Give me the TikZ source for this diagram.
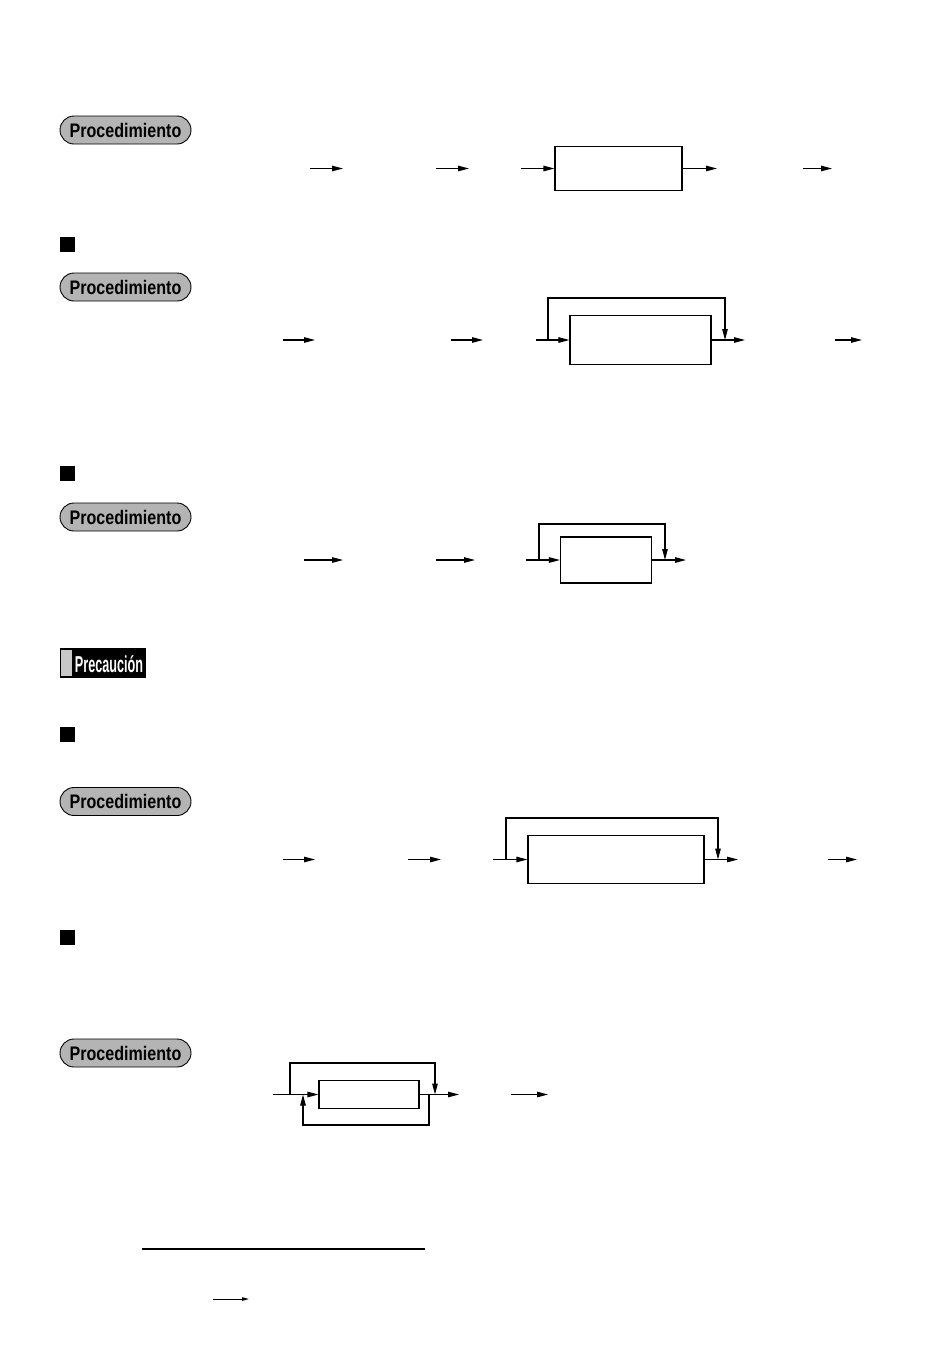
\documentclass[tikz,border=0pt]{standalone}
\usepackage{fontspec}
\usetikzlibrary{arrows.meta}
\newfontfamily\pillfont[FakeStretch=0.82]{Liberation Sans}
\newfontfamily\cautfont[FakeStretch=0.55]{Liberation Sans}
\definecolor{pillgray}{HTML}{B4B4B4}
\definecolor{stripgray}{HTML}{C8C8C8}
\tikzset{
  arr/.style={line width=1.1pt,-{Triangle[length=11pt,width=5.5pt]}},
  ln/.style={line width=1.1pt},
  keybox/.style={draw,line width=1.1pt,minimum width=#1,inner sep=0pt},
  pill/.style={draw,line width=0.9pt,fill=pillgray,rounded corners=14pt,minimum width=131pt,minimum height=28pt,inner sep=0pt,font=\pillfont\bfseries\fontsize{19.6}{20}\selectfont},
  bullet/.style={fill=black,minimum size=15pt,inner sep=0pt},
}
\begin{document}
\begin{tikzpicture}[x=1pt,y=-1pt]
\useasboundingbox (0,0) rectangle (947,1369);
% pills
\node[pill] (p1) at (125.5,130) {Procedimiento};
\node[pill] (p2) at (125.5,287) {Procedimiento};
\node[pill] (p3) at (125.5,517) {Procedimiento};
\node[pill] (p4) at (125.5,801.5) {Procedimiento};
\node[pill] (p5) at (125.5,1053) {Procedimiento};
% bullets
\node[bullet] (s2) at (67.5,244.5) {};
\node[bullet] (s3) at (67.5,473.5) {};
\node[bullet] (s4) at (67.5,734.5) {};
\node[bullet] (s5) at (67.5,937.5) {};
% caution label
\node[fill=black,minimum width=86pt,minimum height=30pt,inner sep=0pt] (cb) at (103,663) {};
\node[fill=stripgray,minimum width=11pt,minimum height=26pt,inner sep=0pt] (cs) at (66.5,663) {};
\node[text=white,inner sep=0pt,font=\cautfont\bfseries\fontsize{23}{24}\selectfont] (ct) at (109,664) {Precauci\'on};
% ---- section 1
\node[keybox=127pt,minimum height=44pt] (b1) at (618.5,168.5) {};
\coordinate (a1s) at (310,168.5); \coordinate (a1e) at (343,168.5);
\coordinate (a2s) at (436,168.5); \coordinate (a2e) at (469,168.5);
\coordinate (a3s) at (521,168.5);
\coordinate (a4e) at (717,168.5);
\coordinate (a5s) at (803,168.5); \coordinate (a5e) at (832,168.5);
\draw[arr] (a1s) -- (a1e);
\draw[arr] (a2s) -- (a2e);
\draw[arr] (a3s) -- (b1.west);
\draw[arr] (b1.east) -- (a4e);
\draw[arr] (a5s) -- (a5e);
% ---- section 2
\node[keybox=141pt,minimum height=49pt] (b2) at (640.5,340) {};
\coordinate (c1s) at (283,340); \coordinate (c1e) at (315,340);
\coordinate (c2s) at (451,340); \coordinate (c2e) at (483,340);
\coordinate (c3s) at (536,340);
\coordinate (l2a) at (548,340); \coordinate (l2b) at (725,340);
\coordinate (c4e) at (745,340);
\coordinate (c5s) at (835,340); \coordinate (c5e) at (862,340);
\draw[arr] (c1s) -- (c1e);
\draw[arr] (c2s) -- (c2e);
\draw[arr] (c3s) -- (b2.west);
\draw[arr] (l2a) -- (548,298) -- (725,298) -- (l2b);
\draw[arr] (b2.east) -- (c4e);
\draw[arr] (c5s) -- (c5e);
% ---- section 3
\node[keybox=91pt,minimum height=46pt] (b3) at (606,560) {};
\coordinate (d1s) at (304,560); \coordinate (d1e) at (343,560);
\coordinate (d2s) at (436,560); \coordinate (d2e) at (475,560);
\coordinate (d3s) at (526,560);
\coordinate (l3a) at (539,560); \coordinate (l3b) at (665,560);
\coordinate (d4e) at (686,560);
\draw[arr] (d1s) -- (d1e);
\draw[arr] (d2s) -- (d2e);
\draw[arr] (d3s) -- (b3.west);
\draw[arr] (l3a) -- (539,524) -- (665,524) -- (l3b);
\draw[arr] (b3.east) -- (d4e);
% ---- section 4
\node[keybox=176pt,minimum height=48pt] (b4) at (616,859.5) {};
\coordinate (e1s) at (283,859.5); \coordinate (e1e) at (315,859.5);
\coordinate (e2s) at (408,859.5); \coordinate (e2e) at (441,859.5);
\coordinate (e3s) at (493,859.5);
\coordinate (l4a) at (506,859.5); \coordinate (l4b) at (718,859.5);
\coordinate (e4e) at (738,859.5);
\coordinate (e5s) at (828,859.5); \coordinate (e5e) at (857,859.5);
\draw[arr] (e1s) -- (e1e);
\draw[arr] (e2s) -- (e2e);
\draw[arr] (e3s) -- (b4.west);
\draw[arr] (l4a) -- (506,818) -- (718,818) -- (l4b);
\draw[arr] (b4.east) -- (e4e);
\draw[arr] (e5s) -- (e5e);
% ---- section 5
\node[keybox=100pt,minimum height=28pt] (b5) at (369,1094.5) {};
\coordinate (f1s) at (273,1094.5);
\coordinate (l5a) at (290,1094.5); \coordinate (l5b) at (435,1094.5);
\coordinate (m5a) at (429,1094.5); \coordinate (m5b) at (303,1094.5);
\coordinate (f2e) at (459,1094.5);
\coordinate (f3s) at (511,1094.5); \coordinate (f3e) at (548,1094.5);
\draw[arr] (f1s) -- (b5.west);
\draw[arr] (l5a) -- (290,1063) -- (435,1063) -- (l5b);
\draw[arr] (m5a) -- (429,1125) -- (303,1125) -- (m5b);
\draw[arr] (b5.east) -- (f2e);
\draw[arr] (f3s) -- (f3e);
% ---- footnote
\coordinate (r1) at (142,1249); \coordinate (r2) at (425,1249);
\draw[ln] (r1) -- (r2);
\coordinate (g1) at (213,1299); \coordinate (g2) at (249,1299);
\draw[line width=1pt,-{Triangle[length=7pt,width=3.5pt]}] (g1) -- (g2);
\end{tikzpicture}
\end{document}
